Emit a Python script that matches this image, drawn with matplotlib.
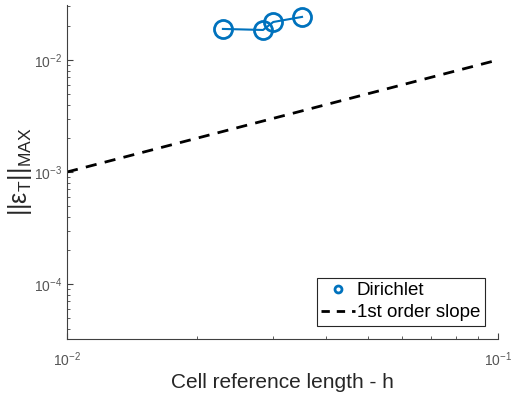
import numpy as np
import matplotlib.pyplot as plt
from matplotlib.lines import Line2D
from matplotlib.ticker import NullFormatter

plt.rcParams['font.family'] = ['Liberation Sans', 'DejaVu Sans']
plt.rcParams['mathtext.fontset'] = 'custom'
plt.rcParams['mathtext.rm'] = 'Liberation Sans'
plt.rcParams['mathtext.it'] = 'Liberation Sans'
plt.rcParams['mathtext.default'] = 'rm'

# datos
h_vals = [0.0351, 0.0301, 0.0285, 0.0230]
err_vals = [0.0242, 0.0218, 0.0185, 0.0189]
slope_h = [1e-2, 1e-1]
slope_err = [1e-3, 1e-2]

azul = '#0072BD'
gris = '#404040'

fig = plt.figure(figsize=(5.13, 3.94), dpi=100)
ax = fig.add_axes([67/513, 55/394, 431/513, 334/394])

ax.plot(h_vals, err_vals, '-o', color=azul, lw=1.5, ms=13, mfc='none', mew=2)
ax.plot(slope_h, slope_err, '--', color='black', lw=2, dashes=(4, 3))

ax.set_xscale('log')
ax.set_yscale('log')
ax.set_xlim(1e-2, 1e-1)
ax.set_ylim(10**-4.49, 10**-1.51)
ax.xaxis.set_minor_formatter(NullFormatter())
ax.yaxis.set_minor_formatter(NullFormatter())

for s in ['top', 'right']:
    ax.spines[s].set_visible(False)
for s in ['left', 'bottom']:
    ax.spines[s].set_color(gris)
ax.tick_params(which='both', direction='in', colors=gris, labelcolor='#555555', labelsize=10)
ax.tick_params(which='major', length=4)
ax.tick_params(which='minor', length=2)
ax.tick_params(axis='x', pad=8)

ax.set_xlabel('Cell reference length - h', fontsize=15, color='#262626', labelpad=3)
ax.set_ylabel(r'$||\varepsilon_T||_{MAX}$', fontsize=18, color='#262626', labelpad=0)

handles = [Line2D([], [], ls='none', marker='o', ms=5, mfc='none', mew=2, color=azul),
           Line2D([], [], ls='--', color='black', lw=2, dashes=(3, 2.5))]
leg = ax.legend(handles, ['Dirichlet', '1st order slope'], loc='lower right', fontsize=13.5,
                fancybox=False, edgecolor='#262626', framealpha=1, borderpad=0.25,
                handlelength=1.8, handletextpad=0.1, borderaxespad=0.7, labelspacing=0.25)
leg.get_frame().set_linewidth(0.8)

fig.savefig('out.png', dpi=100)
